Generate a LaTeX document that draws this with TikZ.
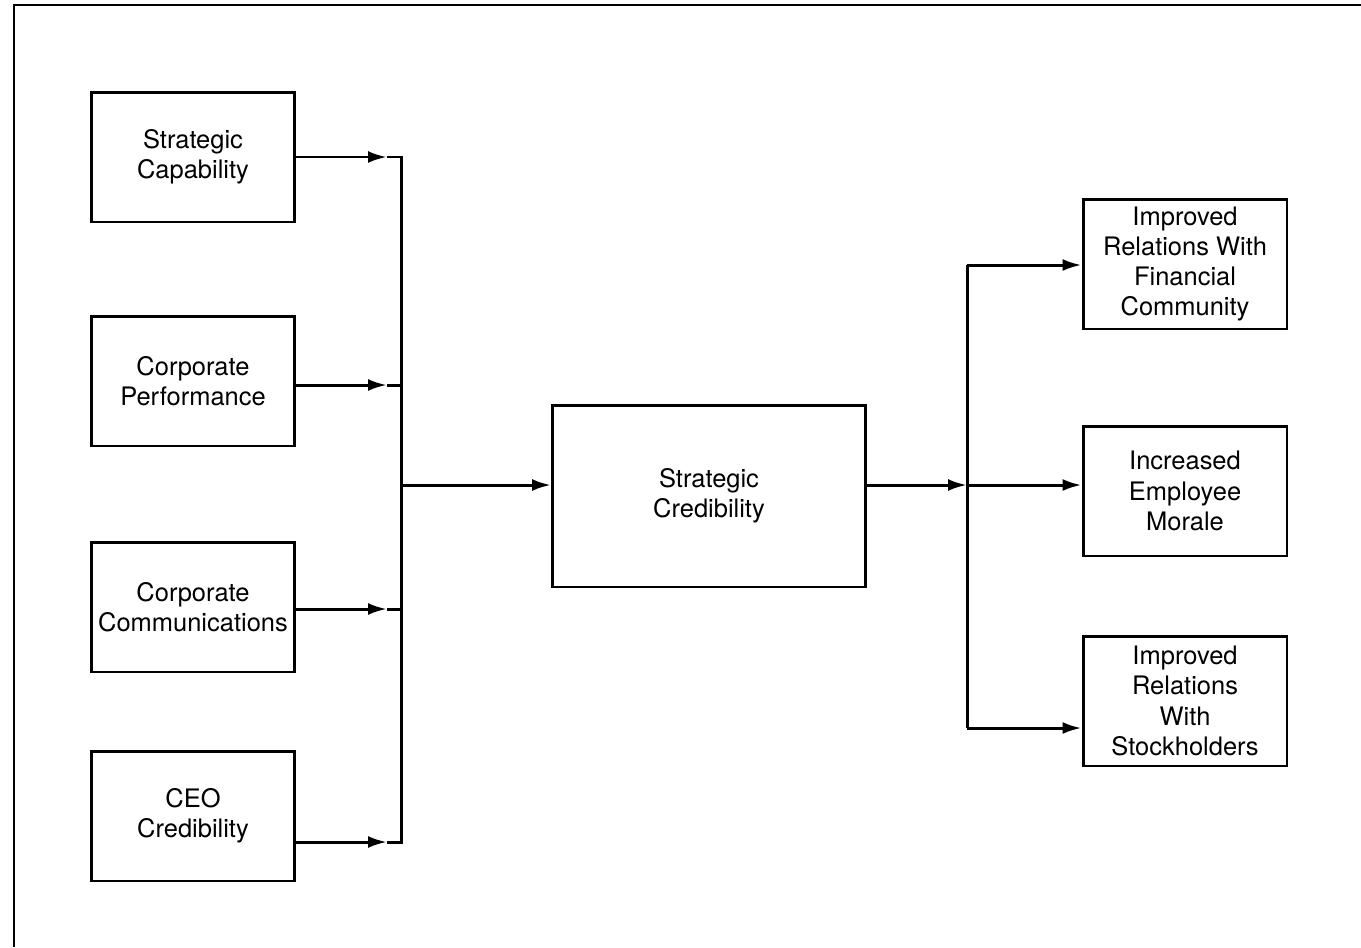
\documentclass[tikz,border=0pt]{standalone}
\usepackage{fontspec}
\setmainfont{TeX Gyre Heros}
\usetikzlibrary{arrows.meta}

\begin{document}
\begin{tikzpicture}[x=0.02cm,y=-0.02cm,line width=1.7pt,
  >={Latex[length=0.38cm,width=0.24cm]},
  box/.style={draw,align=center,inner sep=0pt,
    font=\fontsize{14.5}{17.2}\selectfont},
  sidebox/.style={box,minimum width=4.08cm,minimum height=2.6cm}]
  \useasboundingbox (0,0) rectangle (1361,947);
% Frame
  \draw[line width=1.4pt] (14,947) -- (14,5) -- (1361,5);
% Inputs
  \node[sidebox] (cap) at (193,157) {Strategic\\Capability};
  \node[sidebox] (perf) at (193,381) {Corporate\\Performance};
  \node[sidebox] (comm) at (193,607) {Corporate\\Communications};
  \node[sidebox] (ceo) at (193,816) {CEO\\Credibility};
% Centre
  \node[box,minimum width=6.26cm,minimum height=3.64cm] (cred) at (709,496)
    {Strategic\\Credibility};
% Outputs
  \node[sidebox] (fin) at (1185,264) {Improved\\Relations With\\Financial\\Community};
  \node[sidebox] (emp) at (1185,491) {Increased\\Employee\\Morale};
  \node[sidebox] (stock) at (1185,701) {Improved\\Relations\\With\\Stockholders};
% Input lines
  \coordinate (tipA) at (387,157);
  \coordinate (tipB) at (387,385);
  \coordinate (tipC) at (387,609);
  \coordinate (tipD) at (387,842);
  \coordinate (busT) at (401,157);
  \coordinate (busB) at (401,842);
  \coordinate (hub) at (401,485);
  \draw[->] (cap.east |- tipA) -- (tipA);
  \draw[->] (perf.east |- tipB) -- (tipB);
  \draw[->] (comm.east |- tipC) -- (tipC);
  \draw[->] (ceo.east |- tipD) -- (tipD);
  \draw (tipA) -- (busT) -- (busB) -- (tipD);
  \draw (tipB) -- (tipB -| busT);
  \draw (tipC) -- (tipC -| busT);
  \draw[->] (hub) -- (hub -| cred.west);
% Output lines
  \coordinate (fanT) at (967,265);
  \coordinate (fanB) at (967,728);
  \draw[->] (hub -| cred.east) -- (hub -| fanT);
  \draw (fanT) -- (fanB);
  \draw[->] (fanT) -- (fanT -| fin.west);
  \draw[->] (hub -| fanT) -- (hub -| emp.west);
  \draw[->] (fanB) -- (fanB -| stock.west);
\end{tikzpicture}
\end{document}
